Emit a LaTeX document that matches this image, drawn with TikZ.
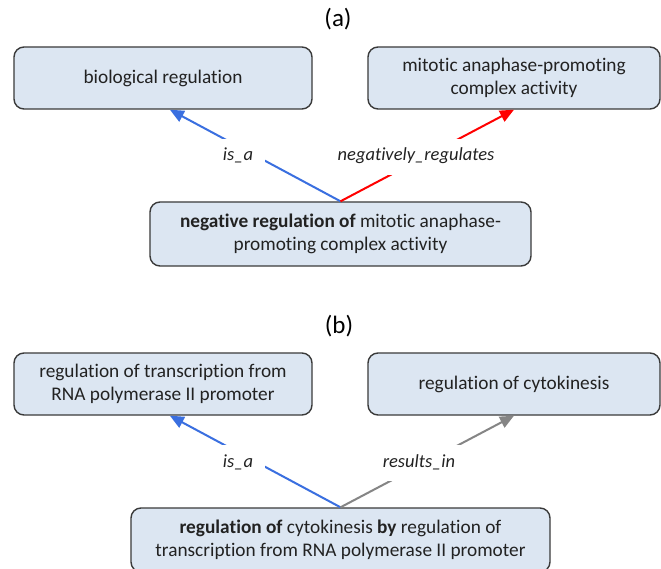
\documentclass[tikz,border=0pt]{standalone}
\usepackage{fontspec}
\setmainfont[Ligatures={NoCommon}]{Carlito}
\usetikzlibrary{arrows.meta,calc}
\definecolor{boxfill}{HTML}{DCE6F2}
\definecolor{boxline}{HTML}{3A3A3A}
\definecolor{txt}{HTML}{222222}
\definecolor{isablue}{HTML}{3A6FE0}
\definecolor{resgray}{HTML}{858585}
\tikzset{
  term/.style={draw=boxline, line width=1.4pt, fill=boxfill, rounded corners=10pt,
    align=center, text=txt, font=\fontsize{19.3}{23}\selectfont, inner sep=0pt},
  rel/.style={line width=2pt, -{Triangle[length=14pt,width=12pt]}},
  isarel/.style={rel, isablue},
  negrel/.style={rel, red},
  resrel/.style={rel, resgray},
  rellabel/.style={fill=white, text=txt, font=\fontsize{18.5}{22}\itshape\selectfont,
    inner xsep=12pt, inner ysep=11pt, text height=11pt, text depth=3pt},
  paneltitle/.style={text=black, font=\fontsize{25}{30}\selectfont, inner sep=0pt}
}
\begin{document}
\begin{tikzpicture}[x=1pt,y=-1pt]
\clip (0,0) rectangle (661,569);
\fill[white] (0,0) rectangle (661,569);
% panel (a)
\node[paneltitle] (ta) at (338,19) {(a)};
\node[term, minimum width=298pt, minimum height=62pt] (bio) at (163,78) {biological regulation};
\node[term, minimum width=292pt, minimum height=62pt] (mit) at (514,78) {mitotic anaphase-promoting\\complex activity};
\node[term, minimum width=381pt, minimum height=64pt] (neg) at (340.5,234) {\textbf{negative regulation of} mitotic anaphase-\\promoting complex activity};
\draw[isarel] (neg.north) -- ($(bio.south west)!0.523!(bio.south east)$);
\draw[negrel] (neg.north) -- (mit.south);
\node[rellabel] (la1) at (238,157) {is\_a};
\node[rellabel] (la2) at (416,157) {negatively\_regulates};
% panel (b)
\node[paneltitle] (tb) at (339,326) {(b)};
\node[term, minimum width=298pt, minimum height=62pt] (trn) at (163,384) {regulation of transcription from\\RNA polymerase II promoter};
\node[term, minimum width=292pt, minimum height=62pt] (cyt) at (514,384) {regulation of cytokinesis};
\node[term, minimum width=419pt, minimum height=64pt] (reg) at (340.5,540) {\textbf{regulation of} cytokinesis \textbf{by} regulation of\\transcription from RNA polymerase II promoter};
\draw[isarel] (reg.north) -- ($(trn.south west)!0.523!(trn.south east)$);
\draw[resrel] (reg.north) -- (cyt.south);
\node[rellabel] (lb1) at (238,463) {is\_a};
\node[rellabel] (lb2) at (419,463) {results\_in};
\end{tikzpicture}
\end{document}
